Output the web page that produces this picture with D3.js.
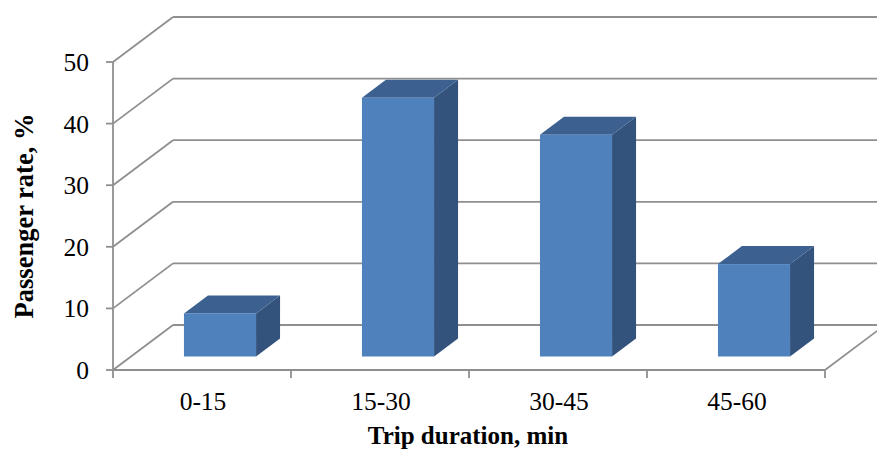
<!DOCTYPE html>
<html>
<head>
<meta charset="utf-8">
<script src="https://cdn.jsdelivr.net/npm/d3@7"></script>
<style>
  html, body { margin: 0; padding: 0; background: #fff; }
  svg { display: block; }
  text { font-family: "Liberation Serif", "Times New Roman", serif; fill: #000; }
</style>
</head>
<body>
<svg id="chart" width="877" height="450"></svg>
<script>
const categories = ["0-15", "15-30", "30-45", "45-60"];
const values = [7, 42, 36, 15];
const yTicks = [0, 10, 20, 30, 40, 50];
const yTitle = "Passenger rate, %";
const xTitle = "Trip duration, min";

const W = 877, H = 450;
const svg = d3.select("#chart");

// front plane geometry
const x0 = 113, x1 = 825, yBase = 370, yTop = 62;
const depthDX = 60, depthDY = -45; // oblique depth offset of back wall

const y = d3.scaleLinear().domain([0, 50]).range([yBase, yTop]);
const x = d3.scaleBand().domain(categories).range([x0, x1]).padding(0);

const gridColor = "#8f8f8f";

// back wall gridlines + left wall diagonals
const grid = svg.append("g");
yTicks.forEach(v => {
  const yy = y(v);
  grid.append("line")
    .attr("x1", x0 + depthDX).attr("y1", yy + depthDY)
    .attr("x2", x1 + depthDX + 10).attr("y2", yy + depthDY)
    .attr("stroke", gridColor).attr("stroke-width", 1.8);
  grid.append("line")
    .attr("x1", x0).attr("y1", yy)
    .attr("x2", x0 + depthDX).attr("y2", yy + depthDY)
    .attr("stroke", gridColor).attr("stroke-width", 1.8);
});

// floor right diagonal and front edge
grid.append("line")
  .attr("x1", x1).attr("y1", yBase)
  .attr("x2", x1 + depthDX).attr("y2", yBase + depthDY)
  .attr("stroke", gridColor).attr("stroke-width", 1.8);
grid.append("line")
  .attr("x1", x0).attr("y1", yBase)
  .attr("x2", x1).attr("y2", yBase)
  .attr("stroke", gridColor).attr("stroke-width", 1.8);

// y axis (front)
grid.append("line")
  .attr("x1", x0).attr("y1", y(50))
  .attr("x2", x0).attr("y2", yBase + 8)
  .attr("stroke", gridColor).attr("stroke-width", 1.8);
yTicks.forEach(v => {
  grid.append("line")
    .attr("x1", x0 - 7).attr("y1", y(v))
    .attr("x2", x0).attr("y2", y(v))
    .attr("stroke", gridColor).attr("stroke-width", 1.8);
  svg.append("text")
    .attr("x", 89).attr("y", y(v) + 9)
    .attr("text-anchor", "end")
    .attr("font-size", 25.5)
    .text(v);
});

// category ticks
categories.forEach((c, i) => {
  const tx = x(c) + x.bandwidth();
  grid.append("line")
    .attr("x1", tx).attr("y1", yBase)
    .attr("x2", tx).attr("y2", yBase + 8)
    .attr("stroke", gridColor).attr("stroke-width", 1.8);
  svg.append("text")
    .attr("x", x(c) + x.bandwidth() / 2 + 1)
    .attr("y", 410)
    .attr("text-anchor", "middle")
    .attr("font-size", 25.5)
    .text(c);
});

// bars (3D boxes)
const dF = 0.3, dB = 0.7; // depth fractions
const fdx = depthDX * dF, fdy = depthDY * dF;
const bdx = depthDX * dB, bdy = depthDY * dB;
const ddx = bdx - fdx, ddy = bdy - fdy;
const barW = x.bandwidth() * 0.405;

const bars = svg.append("g");
categories.forEach((c, i) => {
  const cx = x(c) + x.bandwidth() / 2;
  const L = cx - barW / 2 + fdx, R = cx + barW / 2 + fdx;
  const B = y(0) + fdy, T = y(values[i]) + fdy;
  // side face
  bars.append("path")
    .attr("d", `M${R},${B} L${R + ddx},${B + ddy} L${R + ddx},${T + ddy} L${R},${T} Z`)
    .attr("fill", "#33537d");
  // top face
  bars.append("path")
    .attr("d", `M${L},${T} L${L + ddx},${T + ddy} L${R + ddx},${T + ddy} L${R},${T} Z`)
    .attr("fill", "#3c6190");
  // front face
  bars.append("rect")
    .attr("x", L).attr("y", T)
    .attr("width", R - L).attr("height", B - T)
    .attr("fill", "#4f81bd");
});

// axis titles
svg.append("text")
  .attr("transform", "translate(33,216) rotate(-90)")
  .attr("text-anchor", "middle")
  .attr("font-size", 26.5)
  .attr("font-weight", "bold")
  .text(yTitle);

svg.append("text")
  .attr("x", 468).attr("y", 444)
  .attr("text-anchor", "middle")
  .attr("font-size", 25)
  .attr("font-weight", "bold")
  .text(xTitle);
</script>
</body>
</html>
